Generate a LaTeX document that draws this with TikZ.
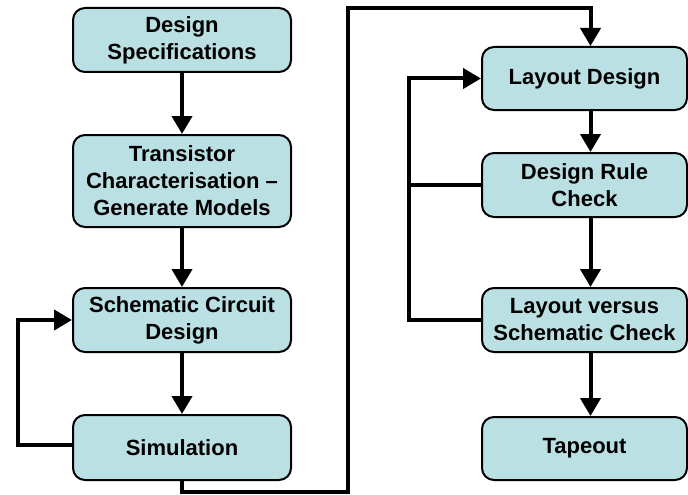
\documentclass[tikz,border=0pt]{standalone}
\usepackage{fontspec}
\setmainfont{Liberation Sans}
\usetikzlibrary{arrows.meta}
\definecolor{boxfill}{RGB}{186,224,228}
\begin{document}
\begin{tikzpicture}[x=1pt,y=-1pt,
  stepbox/.style={draw=black, line width=2pt, fill=boxfill, rounded corners=12pt,
    inner sep=0pt, align=center, font=\fontsize{22}{27}\selectfont\bfseries},
  lbox/.style={stepbox, minimum width=218pt},
  rbox/.style={stepbox, minimum width=205pt},
  conn/.style={line width=4pt, line join=miter},
  arr/.style={conn, -{Triangle[width=20pt,length=18pt]}}]
\useasboundingbox (0,0) rectangle (688,495);
% left column
\node[lbox, minimum height=64pt] (ds) at (182,40) {Design\\Specifications};
\node[lbox, minimum height=92pt] (tc) at (182,181) {Transistor\\Characterisation –\\Generate Models};
\node[lbox, minimum height=64pt] (sc) at (182,320) {Schematic Circuit\\Design};
\node[lbox, minimum height=65pt] (sim) at (182,447.5) {Simulation};
% right column
\node[rbox, minimum height=63pt] (ld) at (584.5,78.5) {Layout Design};
\node[rbox, minimum height=64pt] (drc) at (584.5,185) {Design Rule\\Check};
\node[rbox, minimum height=64pt] (lvs) at (584.5,320) {Layout versus\\Schematic Check};
\node[rbox, minimum height=63pt] (tape) at (584.5,448.5) {Tapeout};
% coordinates
\coordinate (bl) at (182,492);
\coordinate (br) at (348,492);
\coordinate (tr) at (348,8);
\coordinate (lf) at (18,444);
\coordinate (rf) at (409,320);
\coordinate (sw) at ([yshift=3pt]sim.west);
% left column arrows
\draw[arr] (ds.south) -- (tc.north);
\draw[arr] (tc.south) -- (sc.north);
\draw[arr] (sc.south) -- (sim.north);
% right column arrows
\draw[arr] ([xshift=6pt]ld.south) -- ([xshift=6pt]drc.north);
\draw[arr] ([xshift=6pt]drc.south) -- ([xshift=6pt]lvs.north);
\draw[arr] ([xshift=6pt]lvs.south) -- ([xshift=6pt]tape.north);
% link from simulation to layout
\draw[arr] (sim.south) -- (bl) -- (br) -- (tr) -- ([xshift=6pt]ld.north |- tr) -- ([xshift=6pt]ld.north);
% left feedback
\draw[arr] (sw) -- (lf |- sw) -- (lf |- sc.west) -- (sc.west);
% right feedback
\draw[conn] (drc.west) -- (rf |- drc.west);
\draw[arr] (lvs.west) -- (rf) -- (rf |- ld.west) -- (ld.west);
\end{tikzpicture}
\end{document}
